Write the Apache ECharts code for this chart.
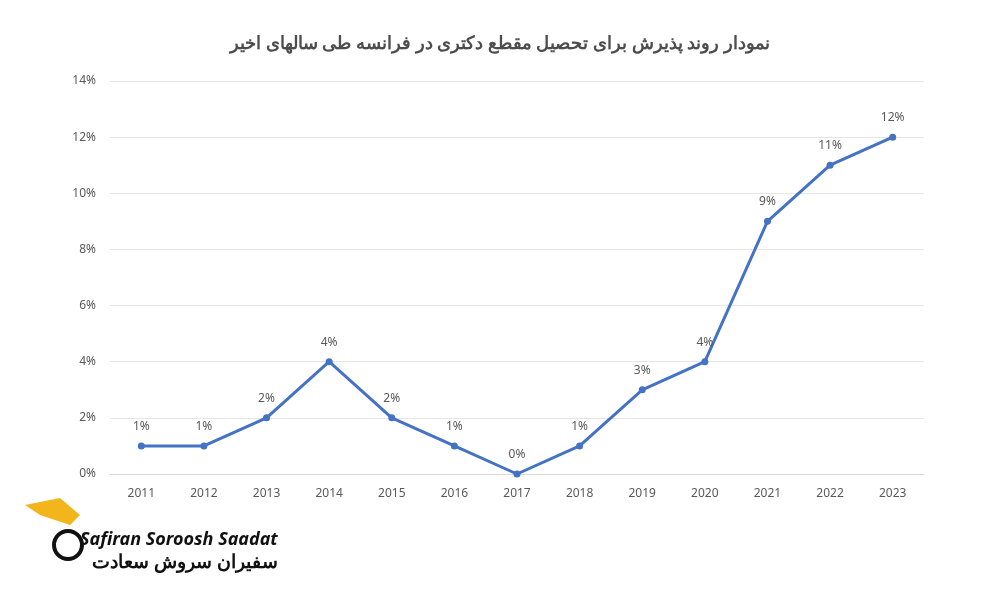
<!DOCTYPE html>
<html><head><meta charset="utf-8">
<script src="https://cdn.jsdelivr.net/npm/echarts@6/dist/echarts.min.js"></script>
<style>html,body{margin:0;padding:0;background:#fff}#c{width:1000px;height:600px}</style>
</head><body><div id="c"></div>
<script>
const titleText = 'نمودار روند پذیرش برای تحصیل مقطع دکتری در فرانسه طی سالهای اخیر';
const years = ['2011','2012','2013','2014','2015','2016','2017','2018','2019','2020','2021','2022','2023'];
const values = [1,1,2,4,2,1,0,1,3,4,9,11,12];
const chart = echarts.init(document.getElementById('c'));
chart.setOption({
  animation:false,
  title:{text:titleText,left:'center',top:30,textStyle:{fontFamily:'Noto Sans',fontSize:17.8,fontWeight:'bold',color:'#4d4d4d'}},
  grid:{left:110,right:76,top:81,bottom:126},
  xAxis:{type:'category',data:years,boundaryGap:true,
    axisLine:{lineStyle:{color:'#d9d9d9'}},axisTick:{show:false},
    axisLabel:{color:'#595959',fontSize:12,margin:14,fontFamily:'Noto Sans'}},
  yAxis:{type:'value',min:0,max:14,interval:2,
    axisLabel:{formatter:'{value}%',color:'#595959',fontSize:12,fontFamily:'Noto Sans',margin:14},
    axisLine:{show:false},axisTick:{show:false},
    splitLine:{lineStyle:{color:'#e6e6e6'}}},
  series:[{type:'line',data:values,symbol:'circle',symbolSize:7,
    lineStyle:{color:'#4472c4',width:3},itemStyle:{color:'#4472c4'},
    label:{show:true,position:'top',distance:10,formatter:'{c}%',color:'#595959',fontSize:12,fontFamily:'Noto Sans'}}],
  graphic:[
    {type:'text',left:80,top:531,style:{text:'Safiran Soroosh Saadat',font:'italic bold 18px "Noto Sans"',fill:'#111'}},
    {type:'text',left:92,top:553,style:{text:'سفیران سروش سعادت',font:'bold 19px "Noto Sans"',fill:'#111'}},
    {type:'circle',shape:{cx:68,cy:545,r:14},style:{fill:'none',stroke:'#111',lineWidth:4}},
    {type:'polygon',shape:{points:[[25,505],[60,498],[80,515],[70,525],[40,515]]},style:{fill:'#f2b51c'}}
  ]
});
</script></body></html>
